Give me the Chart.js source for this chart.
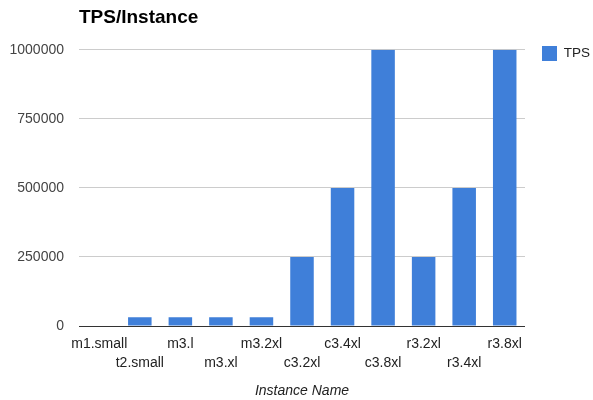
<!DOCTYPE html>
<html>
<head>
<meta charset="utf-8">
<script src="https://cdn.jsdelivr.net/npm/chart.js@4.4.0/dist/chart.umd.min.js"></script>
<style>
  html, body { margin: 0; padding: 0; background: #fff; }
  #wrap { width: 593px; height: 400px; }
</style>
</head>
<body>
<div id="wrap"><canvas id="tpsChart" width="593" height="400"></canvas></div>
<script>
const instances = ['m1.small', 't2.small', 'm3.l', 'm3.xl', 'm3.2xl', 'c3.2xl', 'c3.4xl', 'c3.8xl', 'r3.2xl', 'r3.4xl', 'r3.8xl'];
const tps = [0, 32000, 32000, 32000, 32000, 250000, 500000, 1000000, 250000, 500000, 1000000];
const yTicks = [0, 250000, 500000, 750000, 1000000];

// alternate labels on two rows like the original
const staggered = instances.map((name, i) => i % 2 === 0 ? [name, ''] : ['', name]);

const font = 'Liberation Sans, Arial, sans-serif';

// nudge the legend so it sits level with the top gridline
const legendNudge = {
  id: 'legendNudge',
  afterLayout(chart) {
    const lg = chart.legend;
    lg.left += 9; lg.right += 9;
    lg.top += 36; lg.bottom += 36;
  }
};

const ctx = document.getElementById('tpsChart').getContext('2d');
new Chart(ctx, {
  type: 'bar',
  data: {
    labels: staggered,
    datasets: [{
      label: 'TPS',
      data: tps,
      backgroundColor: '#3f7fd9',
      barPercentage: 0.58,
      categoryPercentage: 1.0
    }]
  },
  options: {
    responsive: false,
    animation: false,
    layout: { autoPadding: false, padding: { left: 9, right: 2, top: 2, bottom: 0 } },
    plugins: {
      title: {
        display: true,
        text: 'TPS/Instance',
        align: 'start',
        fullSize: false,
        color: '#000',
        font: { family: font, size: 19, weight: 'bold' },
        padding: { top: 4, bottom: 21 }
      },
      legend: {
        position: 'right',
        align: 'start',
        labels: {
          boxWidth: 15,
          boxHeight: 15,
          color: '#222',
          font: { family: font, size: 13.5 },
          padding: 8
        }
      },
      tooltip: { enabled: false }
    },
    scales: {
      x: {
        afterFit: (axis) => { axis.height = 74; },
        grid: { display: false, drawTicks: false },
        border: { color: '#333' },
        ticks: {
          autoSkip: false,
          maxRotation: 0,
          minRotation: 0,
          padding: 9,
          color: '#222',
          font: { family: font, size: 14, lineHeight: 1.35 }
        },
        title: {
          display: true,
          text: 'Instance Name',
          color: '#222',
          font: { family: font, size: 14, style: 'italic' },
          padding: { top: 10, bottom: 0 }
        }
      },
      y: {
        min: yTicks[0],
        max: yTicks[yTicks.length - 1],
        afterBuildTicks: (axis) => { axis.ticks = yTicks.map(v => ({ value: v })); },
        afterFit: (axis) => { axis.width = 70; },
        grid: { color: '#cccccc', drawTicks: false },
        border: { display: false },
        ticks: {
          padding: 15,
          color: '#444',
          font: { family: font, size: 14 },
          callback: (v) => String(v)
        }
      }
    }
  },
  plugins: [legendNudge]
});
</script>
</body>
</html>
